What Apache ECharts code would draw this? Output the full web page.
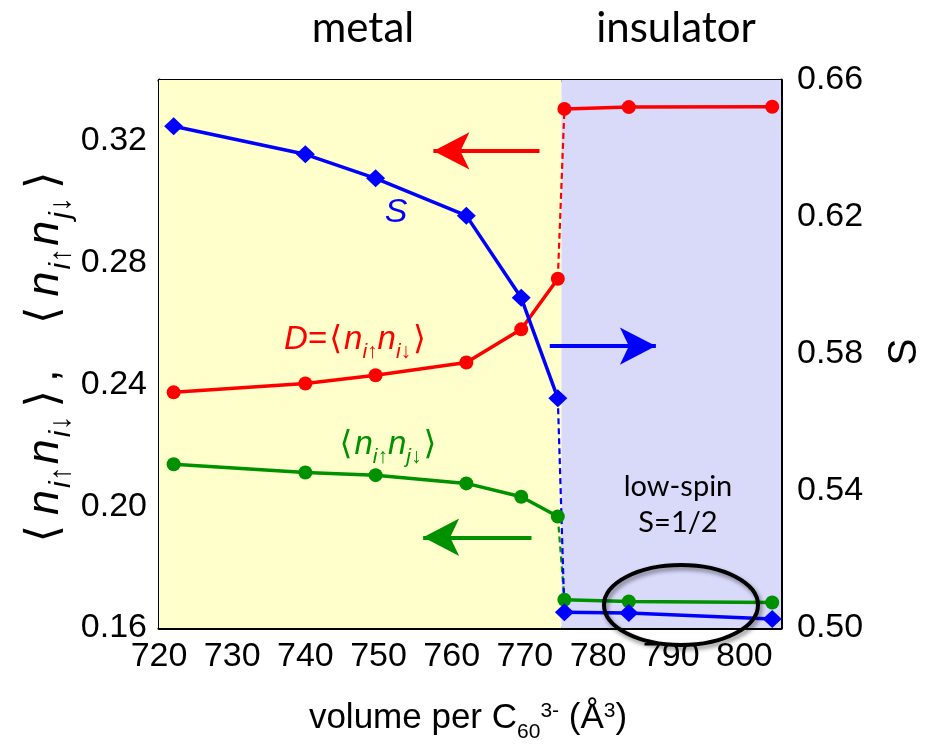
<!DOCTYPE html>
<html>
<head>
<meta charset="utf-8">
<script src="https://cdn.jsdelivr.net/npm/echarts@6/dist/echarts.min.js"></script>
<style>
html,body{margin:0;padding:0;background:#fff;}
#chart{width:937px;height:753px;}
</style>
</head>
<body>
<div id="chart"></div>
<script>
// ---- data ----
const volume    = [722, 740, 749.6, 762, 769.5, 774.5, 775.4, 784.2, 803.8];
const doubleOcc = [0.2374, 0.2403, 0.2430, 0.2472, 0.2581, 0.2747, 0.3305, 0.3311, 0.3312];
const interOcc  = [0.2138, 0.2111, 0.2102, 0.2075, 0.2031, 0.1966, 0.1693, 0.1687, 0.1684];
const spinS     = [0.6465, 0.6383, 0.6313, 0.6204, 0.5964, 0.5671, 0.5046, 0.5044, 0.5026];
const jumpIndex = 6;               // first point on the insulating side
const transitionVolume = 775;      // metal / insulator boundary
const xRange = [720, 805];
const leftRange = [0.16, 0.34];
const rightRange = [0.50, 0.66];
// arrows: [tailX, tipX, y]
const redArrow   = [772.0, 757.5, 0.3167];
const blueArrow  = [773.4, 787.9, 0.5823];
const greenArrow = [770.9, 756.1, 0.1898];

const FONT = "'Liberation Sans', Arial, sans-serif";
const RED = '#ff0000', BLUE = '#0000ff', GREEN = '#009100';

function pts(values, from, to) {
  return volume.slice(from, to).map((v, i) => [v, values[from + i]]);
}

function arrowLine(a, color) {
  return {
    silent: true,
    symbol: ['none', 'arrow'],
    symbolSize: [28, 36],
    label: {show: false},
    lineStyle: {color: color, width: 4, type: 'solid'},
    data: [[{coord: [a[0], a[2]]}, {coord: [a[1], a[2]]}]]
  };
}

function quantitySeries(name, values, color, symbol, size, yIndex, arrow) {
  const base = {
    type: 'line', yAxisIndex: yIndex, symbol: symbol, symbolSize: size,
    lineStyle: {color: color, width: 3.5}, itemStyle: {color: color},
    animation: false, z: 3
  };
  return [
    Object.assign({}, base, {name: name + '-metal', data: pts(values, 0, jumpIndex),
      markLine: arrowLine(arrow, color)}),
    Object.assign({}, base, {name: name + '-jump', data: pts(values, jumpIndex - 1, jumpIndex + 1),
      showSymbol: false, symbol: 'none', lineStyle: {color: color, width: 2.2, type: [6, 4]}, z: 2}),
    Object.assign({}, base, {name: name + '-ins', data: pts(values, jumpIndex, volume.length)})
  ];
}

const series = [
  {
    type: 'line', name: 'bg', data: [], z: 0, animation: false,
    markArea: {
      silent: true,
      data: [
        [{xAxis: xRange[0], itemStyle: {color: '#ffffcc'}}, {xAxis: transitionVolume}],
        [{xAxis: transitionVolume, itemStyle: {color: '#d9d9fa'}}, {xAxis: xRange[1]}]
      ]
    }
  }
]
.concat(quantitySeries('D', doubleOcc, RED, 'circle', 14, 0, redArrow))
.concat(quantitySeries('nn', interOcc, GREEN, 'circle', 14, 0, greenArrow))
.concat(quantitySeries('S', spinS, BLUE, 'diamond', [19, 18], 1, blueArrow));

const axisLine = {show: true, onZero: false, lineStyle: {color: '#000', width: 3}};
const axisTick = {show: true, inside: true, length: 10, lineStyle: {color: '#000', width: 2.5}};

const subRich = function (size, subScale, bracketPad, nPad) {
  return {
    n: {fontFamily: FONT, fontStyle: 'italic', fontSize: size, lineHeight: size * 1.4, verticalAlign: 'middle', padding: [0, nPad, 0, nPad]},
    u: {fontFamily: FONT, fontStyle: 'normal', fontSize: size, lineHeight: size * 1.4, verticalAlign: 'middle'},
    b: {fontFamily: "'DejaVu Sans', sans-serif", fontSize: size, lineHeight: size * 1.4, verticalAlign: 'middle', padding: [0, bracketPad, 0, bracketPad]},
    s: {fontFamily: FONT, fontStyle: 'italic', fontSize: Math.round(size * subScale), lineHeight: Math.round(size * subScale), verticalAlign: 'bottom'}
  };
};
function colorRich(rich, color) {
  Object.keys(rich).forEach(k => rich[k].fill = color);
  return rich;
}

const option = {
  backgroundColor: '#ffffff',
  animation: false,
  grid: {left: 159, right: 156, top: 80, bottom: 125, containLabel: false},
  xAxis: [
    {type: 'value', position: 'bottom', min: xRange[0], max: xRange[1], interval: 10,
     axisLine: axisLine, axisTick: axisTick, splitLine: {show: false},
     axisLabel: {fontFamily: FONT, fontSize: 34, color: '#000', margin: 12,
       formatter: v => (Math.round(v) % 10 === 0 ? String(v) : '')}},
    {type: 'value', position: 'top', min: xRange[0], max: xRange[1], interval: 10,
     axisLine: axisLine, axisTick: axisTick, splitLine: {show: false}, axisLabel: {show: false}}
  ],
  yAxis: [
    {type: 'value', position: 'left', min: leftRange[0], max: leftRange[1], interval: 0.02,
     axisLine: axisLine, axisTick: axisTick, splitLine: {show: false},
     axisLabel: {fontFamily: FONT, fontSize: 34, color: '#000', margin: 12,
       formatter: v => (Math.round(v * 100) % 4 === 0 ? v.toFixed(2) : '')}},
    {type: 'value', position: 'right', min: rightRange[0], max: rightRange[1], interval: 0.02,
     axisLine: axisLine, axisTick: axisTick, splitLine: {show: false},
     axisLabel: {fontFamily: FONT, fontSize: 34, color: '#000', margin: 16,
       formatter: v => (Math.round(v * 100) % 4 === 2 ? v.toFixed(2) : '')}}
  ],
  series: series,
  graphic: [
    {type: 'text', x: 363, y: 28, style: {text: 'metal', fontFamily: 'Lato, sans-serif', fontSize: 42, fill: '#000', align: 'center', verticalAlign: 'middle'}},
    {type: 'text', x: 676, y: 28, style: {text: 'insulator', fontFamily: 'Lato, sans-serif', fontSize: 42, fill: '#000', align: 'center', verticalAlign: 'middle'}},
    {type: 'text', x: 678, y: 487, z: 10, style: {text: 'low-spin', fontFamily: 'Lato, sans-serif', fontSize: 29, fill: '#000', align: 'center', verticalAlign: 'middle'}},
    {type: 'text', x: 678, y: 523, z: 10, style: {text: 'S=1/2', fontFamily: 'Lato, sans-serif', fontSize: 29, fill: '#000', align: 'center', verticalAlign: 'middle'}},
    {type: 'text', x: 396, y: 213, z: 10, style: {text: 'S', fontFamily: FONT, fontStyle: 'italic', fontSize: 34, fill: BLUE, align: 'center', verticalAlign: 'middle'}},
    {type: 'text', x: 356, y: 340, z: 10, style: {
      text: '{n|D}{u|=}{b|⟨}{n|n}{s|i↑}{n|n}{s|i↓}{b|⟩}',
      rich: colorRich(subRich(33, 0.65, 2, 0), RED), align: 'center', verticalAlign: 'middle'}},
    {type: 'text', x: 388, y: 445, z: 10, style: {
      text: '{b|⟨}{n|n}{s|i↑}{n|n}{s|j↓}{b|⟩}',
      rich: colorRich(subRich(33, 0.65, 2, 0), GREEN), align: 'center', verticalAlign: 'middle'}},
    {type: 'text', x: 45, y: 357, rotation: Math.PI / 2, z: 10, style: {
      text: '{b|⟨}{n|n}{s|i↑}{n|n}{s|i↓}{b|⟩}{u|,   }{b|⟨}{n|n}{s|i↑}{n|n}{s|j↓}{b|⟩}',
      rich: colorRich(subRich(45, 0.66, 8, 2), '#000'), align: 'center', verticalAlign: 'middle'}},
    {type: 'text', x: 905, y: 352, rotation: Math.PI / 2, z: 10, style: {text: 'S', fontFamily: FONT, fontSize: 40, fill: '#000', align: 'center', verticalAlign: 'middle'}},
    {type: 'text', x: 468, y: 718, z: 10, style: {
      text: '{t|volume per C}{sub|60}{sup|3-}{t| (Å}{sup|3}{t|)}',
      align: 'center', verticalAlign: 'middle',
      rich: {
        t: {fontFamily: FONT, fontSize: 35, fill: '#000', lineHeight: 50, verticalAlign: 'middle'},
        sub: {fontFamily: FONT, fontSize: 21, fill: '#000', lineHeight: 21, verticalAlign: 'bottom'},
        sup: {fontFamily: FONT, fontSize: 21, fill: '#000', lineHeight: 21, verticalAlign: 'top', padding: [8, 0, 0, 0]}
      }}},
    {type: 'ellipse', z: 20, shape: {cx: 681, cy: 605, rx: 77, ry: 40},
     style: {fill: 'none', stroke: '#000', lineWidth: 4, shadowBlur: 4, shadowColor: 'rgba(0,0,0,0.45)', shadowOffsetX: 2, shadowOffsetY: 3}}
  ]
};

const chart = echarts.init(document.getElementById('chart'), null, {renderer: 'canvas'});
chart.setOption(option);
</script>
</body>
</html>
